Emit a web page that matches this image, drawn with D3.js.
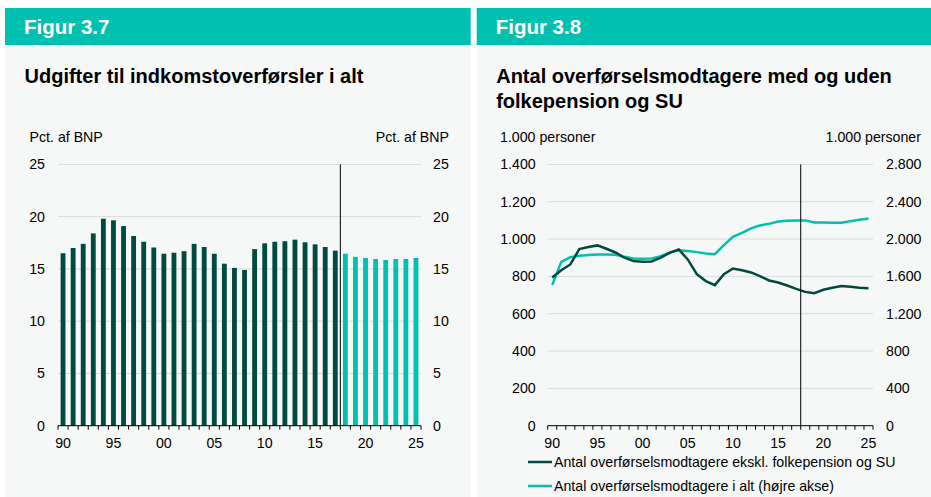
<!DOCTYPE html>
<html>
<head>
<meta charset="utf-8">
<script src="https://cdn.jsdelivr.net/npm/d3@7"></script>
<style>
  body { margin: 0; background: #fff; font-family: "Liberation Sans", Arial, sans-serif; }
  svg text { font-family: "Liberation Sans", Arial, sans-serif; }
</style>
</head>
<body>
<div id="chart"></div>
<script>
// data
var years = d3.range(1990, 2026);
var udgifter = [16.5, 17.0, 17.4, 18.4, 19.8, 19.65, 19.1, 18.15, 17.6, 17.05,
                16.45, 16.55, 16.7, 17.4, 17.1, 16.45, 15.5, 15.1, 14.9, 16.9,
                17.45, 17.6, 17.65, 17.8, 17.55, 17.35, 17.1, 16.75, 16.45, 16.15,
                16.05, 15.95, 15.85, 15.95, 15.95, 16.05];
var eksklFolkepension = [794, 833, 864, 946, 957, 966, 948, 928, 900, 882,
                         878, 880, 900, 926, 944, 891, 812, 775, 753, 812,
                         842, 833, 821, 801, 778, 767, 751, 733, 717, 710,
                         728, 739, 749, 744, 739, 737];
var iAlt = [1506, 1756, 1806, 1820, 1828, 1835, 1835, 1831, 1810, 1792,
            1788, 1792, 1817, 1857, 1881, 1871, 1860, 1846, 1838, 1935,
            2024, 2067, 2114, 2146, 2163, 2189, 2196, 2200, 2200, 2178,
            2178, 2174, 2174, 2192, 2206, 2221];
var xTickYears = [1990, 1995, 2000, 2005, 2010, 2015, 2020, 2025];
var forecastFrom = 2018;
var leftTicks = [0, 5, 10, 15, 20, 25];
var personTicks = [0, 200, 400, 600, 800, 1000, 1200, 1400];
var personTicksRight = [0, 400, 800, 1200, 1600, 2000, 2400, 2800];
var legendNames = ["Antal overførselsmodtagere ekskl. folkepension og SU",
                   "Antal overførselsmodtagere i alt (højre akse)"];

var dark = "#004a3f";
var teal = "#00c0b0";
var grid = "#d9dcdc";
var bg = "#f6f8f8";
var fs = "14.2px";

var W = 931, H = 497;
var svg = d3.select("#chart").append("svg")
    .attr("width", W).attr("height", H);

var fmt = d3.format(",");
function danish(v) { return fmt(v).replace(/,/g, "."); }
function yy(y) { return String(y).slice(2); }

/* panels + headers */
var panels = [
  {x: 5, w: 465.7, fig: "Figur 3.7", title: ["Udgifter til indkomstoverførsler i alt"]},
  {x: 476.7, w: 454.3, fig: "Figur 3.8", title: ["Antal overførselsmodtagere med og uden", "folkepension og SU"]}
];
panels.forEach(function(p) {
  svg.append("rect").attr("x", p.x).attr("y", 45).attr("width", p.w).attr("height", H - 45).attr("fill", bg);
  svg.append("rect").attr("x", p.x).attr("y", 8).attr("width", p.w).attr("height", 37).attr("fill", teal);
  svg.append("text").attr("x", p.x + 19).attr("y", 34)
    .attr("fill", "#fff").attr("font-weight", "bold").attr("font-size", "20.5px").text(p.fig);
  p.title.forEach(function(t, i) {
    svg.append("text").attr("x", p.x + 19.5).attr("y", 82.5 + i * 25)
      .attr("fill", "#000").attr("font-weight", "bold").attr("font-size", "20px").text(t);
  });
});

/* ---------- Figur 3.7: bars ---------- */
var plotTop = 164.4, plotBottom = 425.7;
var g1 = svg.append("g");
var x1 = d3.scaleBand().domain(years).range([58, 421]).paddingInner(0.52).paddingOuter(0.26);
var xb1 = d3.scaleBand().domain(years).range([58, 421]);
var y1 = d3.scaleLinear().domain([0, 25]).range([plotBottom, plotTop]);

g1.append("g").selectAll("line").data(leftTicks.slice(1)).enter().append("line")
  .attr("x1", 58).attr("x2", 421)
  .attr("y1", d => y1(d)).attr("y2", d => y1(d))
  .attr("stroke", grid).attr("stroke-width", 1);

g1.append("g").selectAll("rect").data(years).enter().append("rect")
  .attr("x", d => x1(d))
  .attr("width", x1.bandwidth())
  .attr("y", (d, i) => y1(udgifter[i]))
  .attr("height", (d, i) => y1(0) - y1(udgifter[i]))
  .attr("fill", d => d >= forecastFrom ? teal : dark);

var axL1 = d3.axisLeft(y1).tickValues(leftTicks).tickSize(0).tickPadding(13);
g1.append("g").attr("transform", "translate(58,0)").call(axL1)
  .call(g => g.select(".domain").remove());
var axR1 = d3.axisRight(y1).tickValues(leftTicks).tickSize(0).tickPadding(12);
g1.append("g").attr("transform", "translate(421,0)").call(axR1)
  .call(g => g.select(".domain").remove());

function bandAxis(g, xb, x0, x1r) {
  var base = g.append("g");
  base.append("line").attr("x1", x0).attr("x2", x1r).attr("y1", plotBottom).attr("y2", plotBottom)
    .attr("stroke", "#000").attr("stroke-width", 1);
  var edges = years.map(d => xb(d)).concat([x1r]);
  base.selectAll("line.tk").data(edges).enter().append("line").attr("class", "tk")
    .attr("x1", d => d).attr("x2", d => d).attr("y1", plotBottom).attr("y2", plotBottom + 4)
    .attr("stroke", "#000");
  base.selectAll("text").data(xTickYears).enter().append("text")
    .attr("x", d => xb(d) + xb.bandwidth() / 2).attr("y", plotBottom + 22)
    .attr("text-anchor", "middle").attr("font-size", fs).attr("fill", "#000")
    .text(yy);
}
bandAxis(g1, xb1, 58, 421);

g1.append("line").attr("x1", xb1(forecastFrom)).attr("x2", xb1(forecastFrom))
  .attr("y1", plotTop).attr("y2", plotBottom).attr("stroke", "#000").attr("stroke-width", 1);

g1.append("text").attr("x", 29.5).attr("y", 142).attr("font-size", fs).text("Pct. af BNP");
g1.append("text").attr("x", 449).attr("y", 142).attr("text-anchor", "end").attr("font-size", fs).text("Pct. af BNP");

/* ---------- Figur 3.8: lines ---------- */
var g2 = svg.append("g");
var xb2 = d3.scaleBand().domain(years).range([547.7, 873]);
var xc2 = d => xb2(d) + xb2.bandwidth() / 2;
var y2L = d3.scaleLinear().domain([0, 1400]).range([plotBottom, plotTop]);
var y2R = d3.scaleLinear().domain([0, 2800]).range([plotBottom, plotTop]);

g2.append("g").selectAll("line").data(personTicks.slice(1)).enter().append("line")
  .attr("x1", 547.7).attr("x2", 873)
  .attr("y1", d => y2L(d)).attr("y2", d => y2L(d))
  .attr("stroke", grid).attr("stroke-width", 1);

g2.append("g").attr("transform", "translate(547.7,0)")
  .call(d3.axisLeft(y2L).tickValues(personTicks).tickSize(0).tickPadding(12).tickFormat(danish))
  .call(g => g.select(".domain").remove());
g2.append("g").attr("transform", "translate(873,0)")
  .call(d3.axisRight(y2R).tickValues(personTicksRight).tickSize(0).tickPadding(13).tickFormat(danish))
  .call(g => g.select(".domain").remove());

bandAxis(g2, xb2, 547.7, 873);

var lineL = d3.line().x((d, i) => xc2(years[i])).y(d => y2L(d));
var lineR = d3.line().x((d, i) => xc2(years[i])).y(d => y2R(d));

g2.append("path").datum(iAlt).attr("d", lineR)
  .attr("fill", "none").attr("stroke", teal).attr("stroke-width", 2.5);
g2.append("path").datum(eksklFolkepension).attr("d", lineL)
  .attr("fill", "none").attr("stroke", dark).attr("stroke-width", 2.5);

g2.append("line").attr("x1", xb2(forecastFrom)).attr("x2", xb2(forecastFrom))
  .attr("y1", plotTop).attr("y2", plotBottom).attr("stroke", "#000").attr("stroke-width", 1);

g2.selectAll("text.unit").data([0, 1]).enter().append("text").attr("class", "unit")
  .attr("x", d => d ? 921 : 500).attr("y", 142)
  .attr("text-anchor", d => d ? "end" : "start")
  .attr("font-size", fs).text("1.000 personer");

var leg = g2.append("g");
leg.selectAll("line").data(legendNames).enter().append("line")
  .attr("x1", 528).attr("x2", 552)
  .attr("y1", (d, i) => 462 + i * 24).attr("y2", (d, i) => 462 + i * 24)
  .attr("stroke", (d, i) => i ? teal : dark).attr("stroke-width", 2.5);
leg.selectAll("text").data(legendNames).enter().append("text")
  .attr("x", 554).attr("y", (d, i) => 467 + i * 24)
  .attr("font-size", fs).text(d => d);

svg.selectAll(".tick text").attr("font-size", fs).attr("fill", "#000")
  .attr("font-family", "Liberation Sans, Arial, sans-serif");
</script>
</body>
</html>
